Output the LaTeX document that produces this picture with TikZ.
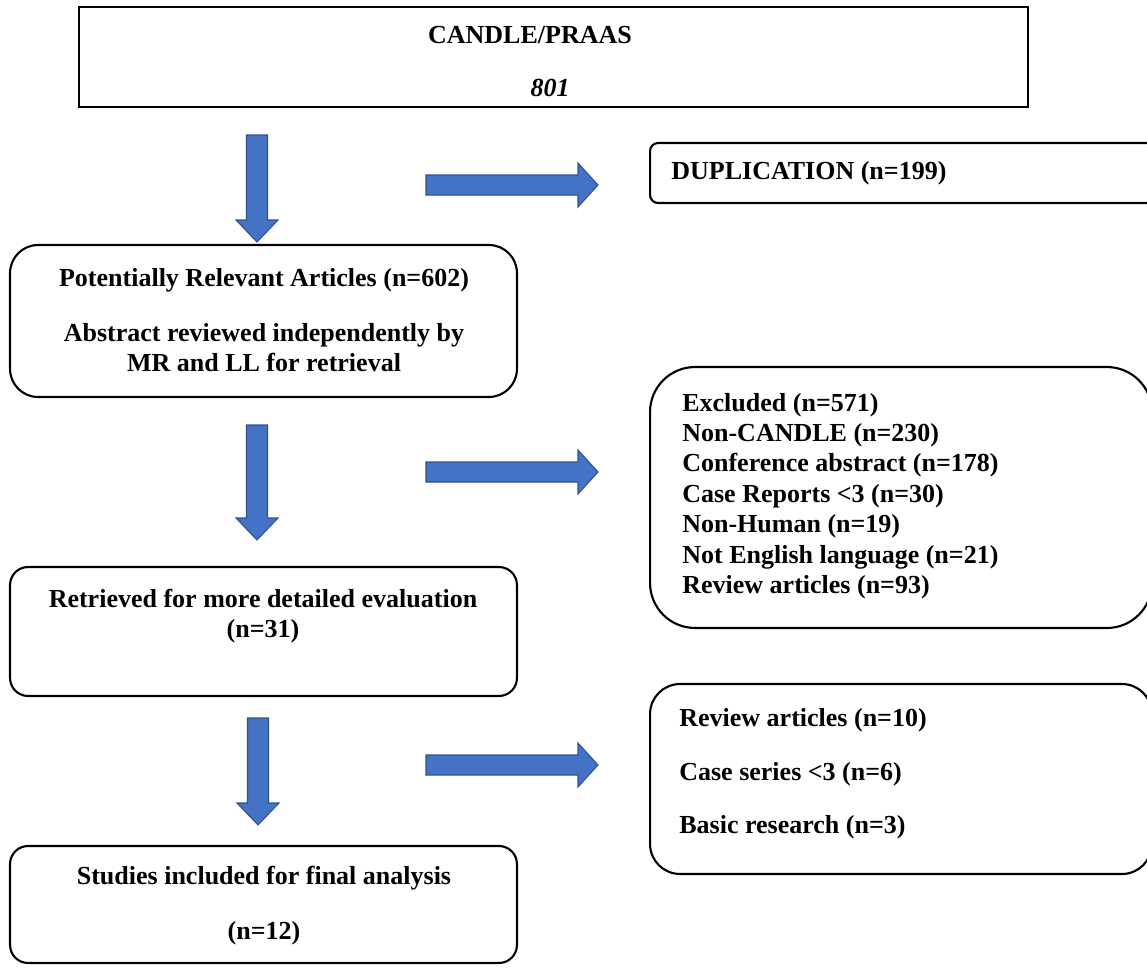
\documentclass[tikz,border=0pt]{standalone}
\usepackage{fontspec}
\setmainfont{Liberation Serif}
\definecolor{arrowblue}{HTML}{4472C4}
\definecolor{arrowedge}{HTML}{2F528F}
\newcommand{\blockdown}[2]{\draw[blockarrow] (#1) ++(-10.5,0) -- ++(21,0) -- ++(0,#2-22) -- ++(10.5,0) -- ++(-21,22) -- ++(-21,-22) -- ++(10.5,0) -- cycle;}
\newcommand{\blockright}[1]{\draw[blockarrow] (#1) ++(0,-10) -- ++(152,0) -- ++(0,-12) -- ++(20,22) -- ++(-20,22) -- ++(0,-12) -- ++(-152,0) -- cycle;}
\begin{document}
\begin{tikzpicture}[x=0.02cm,y=-0.02cm,
    font=\bfseries\fontsize{14.8}{17}\selectfont,
    flatbox/.style={draw,line width=0.8pt,inner sep=0pt},
    roundbox/.style={draw,line width=1.2pt,inner sep=0pt},
    txt/.style={inner sep=0pt,align=center},
    blockarrow/.style={fill=arrowblue,draw=arrowedge,line width=0.6pt}]
                \useasboundingbox (0,0) rectangle (1147,970);
                \clip (0,0) rectangle (1147,970);
                \node[flatbox,minimum width=18.98cm,minimum height=2cm] (src) at (553.5,57) {};
                \node[txt] (srct) at (530,35) {CANDLE/PRAAS};
                \node[txt] (srcn) at (550,88) {\itshape 801};
                \node[roundbox,rounded corners=0.16cm,minimum width=10.2cm,minimum height=1.2cm] (dup) at (905,173) {};
                \node[txt,anchor=west] (dupt) at (671,173) {DUPLICATION (n=199)};
                \node[roundbox,rounded corners=0.56cm,minimum width=10.14cm,minimum height=3.04cm] (pra) at (263.5,321) {};
                \node[txt] (prat) at (264,280) {Potentially Relevant Articles (n=602)};
                \node[txt] (prab) at (264,348) {Abstract reviewed independently by\\MR and LL for retrieval};
                \node[roundbox,rounded corners=0.9cm,minimum width=10.04cm,minimum height=5.22cm] (exc) at (901,497.5) {};
                \node[txt,align=left,anchor=west] (exct) at (682,496) {Excluded (n=571)\\[0.3pt]Non-CANDLE (n=230)\\[0.3pt]Conference abstract (n=178)\\[0.3pt]Case Reports <3 (n=30)\\[0.3pt]Non-Human (n=19)\\[0.3pt]Not English language (n=21)\\[0.3pt]Review articles (n=93)};
                \node[roundbox,rounded corners=0.36cm,minimum width=10.14cm,minimum height=2.58cm] (ret) at (263.5,631.5) {};
                \node[txt] (rett) at (263,616) {Retrieved for more detailed evaluation\\(n=31)};
                \node[roundbox,rounded corners=0.6cm,minimum width=10.04cm,minimum height=3.8cm] (rev) at (901,779) {};
                \node[txt,align=left,anchor=west] (revt) at (679,774) {Review articles (n=10)\\[13.5pt]Case series <3 (n=6)\\[13.5pt]Basic research (n=3)};
                \node[roundbox,rounded corners=0.36cm,minimum width=10.14cm,minimum height=2.34cm] (inc) at (263.5,904.5) {};
                \node[txt] (inct) at (264,905.5) {Studies included for final analysis\\[14pt](n=12)};
                \coordinate (d1) at (257,135);
                \coordinate (d2) at (257,425);
                \coordinate (d3) at (258,718);
                \coordinate (r1) at (426,185);
                \coordinate (r2) at (426,472);
                \coordinate (r3) at (426,765);
                \blockdown{d1}{107}
                \blockdown{d2}{115}
                \blockdown{d3}{107}
                \blockright{r1}
                \blockright{r2}
                \blockright{r3}
            \end{tikzpicture}
\end{document}
